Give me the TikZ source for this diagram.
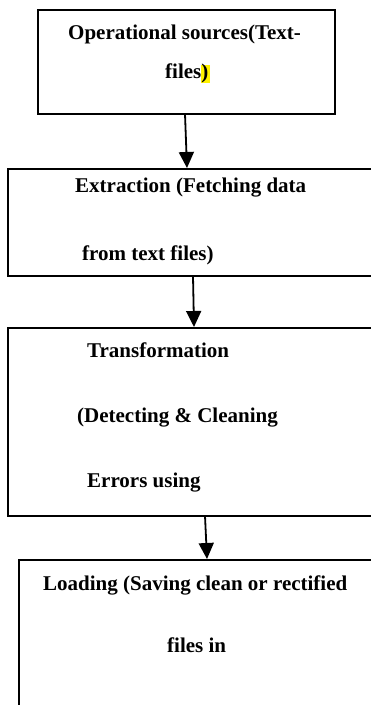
\documentclass[tikz,border=0pt]{standalone}
\usepackage{fontspec}
\setmainfont{Liberation Serif}
\usetikzlibrary{arrows.meta}
\tikzset{
  stage/.style={draw=black, line width=1.8pt},
  label/.style={anchor=base west, inner sep=0pt, font=\fontsize{21}{25}\selectfont\bfseries},
  flow/.style={line width=1.8pt, -{Triangle[width=15pt,length=16pt]}}
}
\begin{document}
\begin{tikzpicture}[x=1pt,y=-1pt]
  \useasboundingbox (0,0) rectangle (371,705);
  \clip (0,0) rectangle (371,705);
  % stage boxes
  \draw[stage] (38,10) rectangle (335,114);
  \draw[stage] (8,169) rectangle (400,276);
  \draw[stage] (8,328) rectangle (400,516);
  \draw[stage] (19,560) rectangle (400,730);
  % yellow marker behind the closing parenthesis
  \fill[yellow] (201,64.5) rectangle (209.5,83);
  % labels
  \node[label] (t1a) at (68,39) {Operational sources(Text-};
  \node[label] (t1b) at (165,78) {files)};
  \node[label] (t2a) at (75,192) {Extraction (Fetching data};
  \node[label] (t2b) at (82,260) {from text files)};
  \node[label] (t3a) at (87,357) {Transformation};
  \node[label] (t3b) at (77,422) {(Detecting \& Cleaning};
  \node[label] (t3c) at (87,487) {Errors using};
  \node[label] (t4a) at (43,590) {Loading (Saving clean or rectified};
  \node[label] (t4b) at (167,652) {files in};
  % connector end points
  \coordinate (a1s) at (185,114);
  \coordinate (a1e) at (187,168);
  \coordinate (a2s) at (193,276);
  \coordinate (a2e) at (194,327);
  \coordinate (a3s) at (205,516);
  \coordinate (a3e) at (207,559);
  \draw[flow] (a1s) -- (a1e);
  \draw[flow] (a2s) -- (a2e);
  \draw[flow] (a3s) -- (a3e);
\end{tikzpicture}
\end{document}
